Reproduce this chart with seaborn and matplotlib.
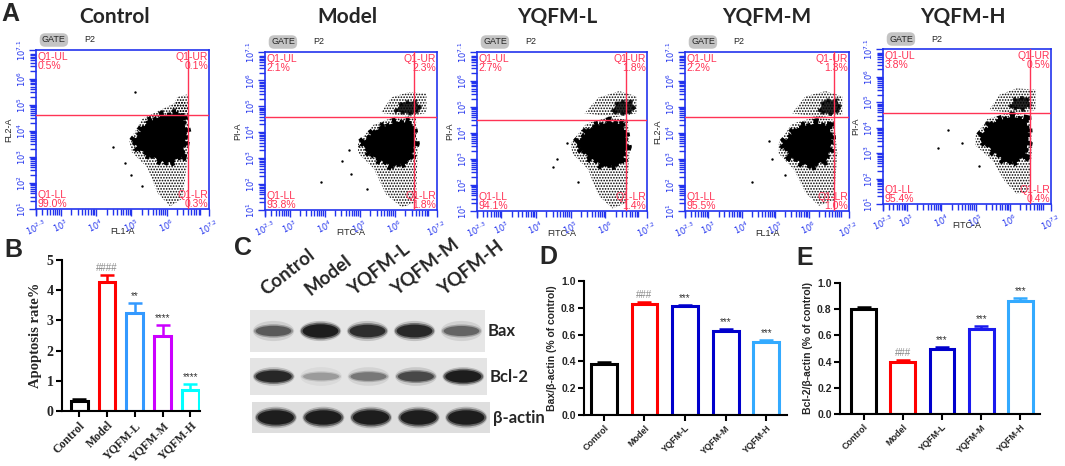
import numpy as np
import pandas as pd
import matplotlib.pyplot as plt
import seaborn as sns
from matplotlib.patches import Polygon, Ellipse

# ---- data ----
groups = ["Control", "Model", "YQFM-L", "YQFM-M", "YQFM-H"]

# A: quadrant percentages (UL, UR, LL, LR)
quad_ul = [0.5, 2.1, 2.7, 2.2, 3.8]
quad_ur = [0.1, 2.3, 1.8, 1.3, 0.5]
quad_ll = [99.0, 93.8, 94.1, 95.5, 95.4]
quad_lr = [0.3, 1.8, 1.4, 1.0, 0.4]
gate_x = [6.6, 6.54, 6.6, 6.75, 6.59]      # vertical gate (log10 units)
gate_y = [4.6, 4.6, 4.5, 4.6, 4.58]        # horizontal gate
xlab_a = ["FL1-A", "FITC-A", "FITC-A", "FL1-A", "FITC-A"]
ylab_a = ["FL2-A", "PI-A", "PI-A", "FL2-A", "PI-A"]

# dense cell cloud outlines (log10 FITC, log10 PI)
core_ctrl = [(5.06, 3.58), (5.43, 4.29), (5.9, 4.6), (6.43, 4.67), (6.57, 3.9), (6.43, 3.0), (6.0, 2.75), (5.62, 3.0), (5.25, 3.26)]
core_model = [(5.05, 3.57), (5.48, 4.09), (6.05, 4.41), (6.48, 4.35), (6.57, 3.57), (6.43, 2.93), (5.95, 2.67), (5.39, 3.06)]
core_low = [(5.17, 3.6), (5.56, 4.17), (6.13, 4.43), (6.52, 4.3), (6.62, 3.47), (6.47, 2.83), (5.99, 2.7), (5.51, 3.08)]
core_mid = [(5.24, 3.6), (5.64, 4.17), (6.24, 4.37), (6.63, 4.23), (6.68, 3.6), (6.53, 2.96), (6.03, 2.7), (5.44, 3.08)]
core_high = [(5.13, 3.65), (5.47, 4.18), (6.05, 4.44), (6.49, 4.31), (6.54, 3.52), (6.44, 2.86), (5.95, 2.6), (5.47, 3.13)]

# sparse surroundings of each cloud
halo_ctrl = [(4.95, 3.6), (5.3, 4.45), (5.9, 4.85), (6.45, 5.2), (6.62, 4.9), (6.62, 3.2), (6.45, 1.4), (6.1, 1.1), (5.75, 1.6), (5.45, 2.6), (5.0, 3.2)]
halo_model = [(4.95, 3.6), (5.4, 4.3), (6.0, 4.6), (6.6, 4.55), (6.65, 3.3), (6.6, 1.3), (6.2, 1.1), (5.75, 1.6), (5.4, 2.6), (4.95, 3.2)]
halo_low = [(5.0, 3.6), (5.45, 4.35), (6.1, 4.6), (6.65, 4.5), (6.7, 3.3), (6.6, 1.3), (6.2, 1.1), (5.8, 1.6), (5.5, 2.6), (5.05, 3.2)]
halo_mid = [(5.1, 3.6), (5.5, 4.35), (6.2, 4.6), (6.75, 4.5), (6.85, 3.2), (6.75, 1.4), (6.3, 1.2), (5.9, 1.7), (5.55, 2.6), (5.1, 3.2)]
halo_high = [(5.0, 3.7), (5.35, 4.35), (6.0, 4.6), (6.6, 4.45), (6.65, 3.2), (6.55, 1.5), (6.2, 1.4), (5.85, 1.9), (5.5, 2.7), (5.0, 3.3)]

# late-apoptotic cluster (upper right)
upper_ctrl = [(6.1, 4.7), (6.3, 5.3), (6.6, 5.4), (6.6, 4.7)]
upper_model = [(5.6, 4.75), (5.9, 5.35), (6.4, 5.55), (6.9, 5.5), (6.9, 4.75), (6.4, 4.6)]
upper_low = [(5.4, 4.75), (5.8, 5.35), (6.4, 5.6), (6.9, 5.4), (6.9, 4.75), (6.3, 4.6)]
upper_mid = [(5.5, 4.75), (5.9, 5.4), (6.5, 5.6), (7.0, 5.4), (7.0, 4.7), (6.3, 4.6)]
upper_high = [(5.4, 4.7), (5.7, 5.3), (6.2, 5.55), (6.75, 5.5), (6.75, 4.7), (6.2, 4.55)]
dense_model = [(6.0, 4.8), (6.2, 5.15), (6.6, 5.2), (6.75, 4.9), (6.5, 4.7)]
dense_low = [(6.2, 4.8), (6.35, 5.2), (6.75, 5.2), (6.85, 4.9), (6.6, 4.7)]
dense_mid = [(6.3, 4.8), (6.45, 5.25), (6.85, 5.25), (6.95, 4.9), (6.7, 4.7)]
dense_high = [(6.0, 4.8), (6.15, 5.15), (6.5, 5.2), (6.6, 4.9), (6.4, 4.7)]

# isolated events
out_ctrl_x = [5.1, 4.49, 4.82, 5.0, 5.3]
out_ctrl_y = [5.5, 3.39, 2.75, 2.3, 1.9]
out_model_x = [4.5, 3.9, 4.7, 4.75, 5.2]
out_model_y = [2.9, 2.1, 3.3, 2.4, 1.8]
out_low_x = [4.6, 4.9, 4.5, 5.2]
out_low_y = [3.0, 3.6, 2.7, 2.1]
out_mid_x = [4.3, 4.8, 4.9, 5.3]
out_mid_y = [2.1, 3.7, 3.0, 2.4]
out_high_x = [4.2, 4.6, 3.9, 5.1]
out_high_y = [3.9, 3.4, 3.2, 2.5]

# B: apoptosis rate (%)
apop_mean = [0.33, 4.27, 3.24, 2.50, 0.71]
apop_err = [0.08, 0.22, 0.32, 0.35, 0.17]
apop_sig = ["", "####", "**", "****", "****"]

# C: western blot band intensity (0-1)
band_bax = [0.55, 1.0, 0.85, 0.9, 0.5]
band_bcl2 = [0.9, 0.25, 0.4, 0.65, 1.0]
band_actin = [1.0, 1.0, 1.0, 1.0, 1.0]
blot_rows = ["Bax", "Bcl-2", "β-actin"]

# D: Bax / beta-actin
bax_mean = [0.38, 0.83, 0.81, 0.625, 0.545]
bax_err = [0.012, 0.01, 0.012, 0.018, 0.016]
bax_sig = ["", "###", "***", "***", "***"]

# E: Bcl-2 / beta-actin
bcl_mean = [0.80, 0.40, 0.50, 0.65, 0.865]
bcl_err = [0.02, 0.012, 0.01, 0.025, 0.02]
bcl_sig = ["", "###", "***", "***", "***"]

# ---- figure ----
sns.set_theme(style="ticks")
plt.rcParams['font.family'] = ['Liberation Sans', 'DejaVu Sans']
plt.rcParams['hatch.linewidth'] = 0.8
W, H = 1065, 466
fig = plt.figure(figsize=(W / 100, H / 100), dpi=100)


def fax(l, t, r, b):
    return fig.add_axes([l / W, 1 - b / H, (r - l) / W, (b - t) / H])


blue = "#2233ee"
qred = "#ff3355"
a_boxes = [(36, 50, 209, 209), (265, 52, 437, 210), (477, 52, 647, 211), (685, 52, 849, 211), (883, 49, 1051, 204)]
title_x = [115, 347, 557, 767, 963]
cores = [core_ctrl, core_model, core_low, core_mid, core_high]
halos = [halo_ctrl, halo_model, halo_low, halo_mid, halo_high]
uppers = [upper_ctrl, upper_model, upper_low, upper_mid, upper_high]
denses = [None, dense_model, dense_low, dense_mid, dense_high]
outs = [(out_ctrl_x, out_ctrl_y), (out_model_x, out_model_y), (out_low_x, out_low_y),
        (out_mid_x, out_mid_y), (out_high_x, out_high_y)]

xmaj = [2.3, 3, 4, 5, 6, 7.2]
ymaj = [1, 2, 3, 4, 5, 6, 7.1]
xmin = [np.log10(k) + n for n in range(2, 8) for k in range(2, 10) if 2.3 < np.log10(k) + n < 7.2]
ymin = [np.log10(k) + n for n in range(1, 8) for k in range(2, 10) if 1 < np.log10(k) + n < 7.1]

for i, g in enumerate(groups):
    l, t, r, b = a_boxes[i]
    ax = fax(l, t, r, b)
    ax.set_xlim(2.3, 7.2)
    ax.set_ylim(1, 7.1)
    ax.add_patch(Polygon(halos[i], closed=True, fc="none", ec="black", hatch="......", lw=0, zorder=2))
    ax.add_patch(Polygon(uppers[i], closed=True, fc="none", ec="black", hatch="......", lw=0, zorder=2))
    if denses[i] is not None:
        ax.add_patch(Polygon(denses[i], closed=True, fc="black", ec="black", lw=2.5,
                             linestyle=(0, (1, 1.2)), alpha=0.85, zorder=3))
    # core with a grainy dotted rim
    ax.add_patch(Polygon(cores[i], closed=True, fc="none", ec="black", lw=7,
                         linestyle=(0, (0.4, 0.9)), zorder=3))
    ax.add_patch(Polygon(cores[i], closed=True, fc="black", ec="black", lw=3,
                         linestyle=(0, (1, 0.8)), zorder=3))
    sns.scatterplot(x=outs[i][0], y=outs[i][1], s=3, color="black", linewidth=0, ax=ax, legend=False, zorder=3)
    ax.axvline(gate_x[i], color=qred, lw=1, zorder=4)
    ax.axhline(gate_y[i], color=qred, lw=1, zorder=4)
    for s in ax.spines.values():
        s.set_color(blue)
        s.set_linewidth(1.2)
    ax.set_xticks(xmaj)
    ax.set_xticklabels(["$10^{%s}$" % v for v in xmaj], rotation=25, fontsize=6, color=blue)
    ax.set_yticks(ymaj)
    ax.set_yticklabels(["$10^{%s}$" % v for v in ymaj], rotation=90, fontsize=6, color=blue, va="center")
    ax.set_xticks(xmin, minor=True)
    ax.set_yticks(ymin, minor=True)
    ax.tick_params(which="both", direction="out", color=blue, width=1)
    ax.tick_params(which="major", length=5, pad=1)
    ax.tick_params(which="minor", length=4)
    ax.set_xlabel("")
    ax.set_ylabel("")
    kw = dict(transform=ax.transAxes, color=qred, fontsize=7.5, linespacing=0.9, zorder=5)
    ax.text(0.01, 0.99, "Q1-UL\n%.1f%%" % quad_ul[i], ha="left", va="top", **kw)
    ax.text(0.995, 0.99, "Q1-UR\n%.1f%%" % quad_ur[i], ha="right", va="top", **kw)
    ax.text(0.01, 0.0, "Q1-LL\n%.1f%%" % quad_ll[i], ha="left", va="bottom", **kw)
    ax.text(0.995, 0.0, "Q1-LR\n%.1f%%" % quad_lr[i], ha="right", va="bottom", **kw)
    fig.text(title_x[i] / W, 1 - 17 / H, g, ha="center", va="center", fontsize=15, weight="bold", family="Lato")
    fig.text((l + r) / 2 / W, 1 - (b + 22) / H, xlab_a[i], ha="center", va="center", fontsize=6.5)
    fig.text((l - 27) / W, 1 - (t + b) / 2 / H, ylab_a[i], ha="center", va="center", fontsize=6.5, rotation=90)
    fig.text((l + 6) / W, 1 - (t - 10) / H, "GATE", ha="left", va="center", fontsize=6.5,
             bbox=dict(boxstyle="round,pad=0.25,rounding_size=0.6", fc="#c4c4c4", ec="none"))
    fig.text((l + 48) / W, 1 - (t - 10) / H, "P2", ha="left", va="center", fontsize=6.5)

fig.text(10 / W, 1 - 14 / H, "A", fontsize=18, weight="bold", ha="center", va="center")


# ---- bar panels ----
def bar_panel(box, means, errs, sigs, colors, xlim, ylim, yticks, ylabel, font, tsize, lsize, ysize, width):
    ax = fax(*box)
    df = pd.DataFrame({"group": groups, "value": means})
    sns.barplot(data=df, x="group", y="value", hue="group", palette=colors, fill=False,
                linewidth=2.2, width=width, legend=False, ax=ax, errorbar=None)
    for j in range(len(groups)):
        ax.errorbar(j, means[j], yerr=[[0], [errs[j]]], fmt="none", ecolor=colors[j],
                    elinewidth=1.8, capsize=5, capthick=1.8)
        if sigs[j]:
            ax.text(j, means[j] + errs[j] + (ylim[1] - ylim[0]) * 0.015, sigs[j], ha="center", va="bottom",
                    fontsize=7, color="#333333" if sigs[j][0] == "*" else "#888888")
    ax.set_xlim(*xlim)
    ax.set_ylim(*ylim)
    ax.set_yticks(yticks)
    sns.despine(ax=ax)
    for s in ["left", "bottom"]:
        ax.spines[s].set_linewidth(1.5)
        ax.spines[s].set_color("black")
    ax.tick_params(axis="both", width=1.5, length=4, color="black", pad=2)
    ax.set_xlabel("")
    ax.set_ylabel(ylabel, family=font, weight="bold", fontsize=ysize, labelpad=3)
    ax.set_xticks(range(len(groups)))
    ax.set_xticklabels(groups, rotation=45, ha="right", rotation_mode="anchor", family=font,
                       weight="bold", fontsize=lsize)
    for lab in ax.get_yticklabels():
        lab.set_family(font)
        lab.set_weight("bold")
        lab.set_fontsize(tsize)
    return ax


colors_b = ["black", "#ff0000", "#3399ff", "#cc00ff", "#00ffff"]
colors_d = ["black", "#ff0000", "#0000cc", "#0000cc", "#33aaff"]
colors_e = ["black", "#ff0000", "#0000cc", "#1a1aee", "#33aaff"]

axb = bar_panel((62, 260, 200, 411), apop_mean, apop_err, apop_sig, colors_b, (-0.62, 4.35), (0, 5),
                [0, 1, 2, 3, 4, 5], "Apoptosis rate%", "Liberation Serif", 10, 8.5, 10.5, 0.6)
axd = bar_panel((584, 281, 787, 415), bax_mean, bax_err, bax_sig, colors_d, (-0.49, 4.51), (0, 1.0),
                [0, 0.2, 0.4, 0.6, 0.8, 1.0], "Bax/β-actin (% of control)", "Liberation Sans", 7.5, 6.5, 7.5, 0.64)
axe = bar_panel((840, 283, 1040, 414), bcl_mean, bcl_err, bcl_sig, colors_e, (-0.6, 4.5), (0, 1.0),
                [0, 0.2, 0.4, 0.6, 0.8, 1.0], "Bcl-2/β-actin (% of control)", "Liberation Sans", 7.5, 6.5, 7.5, 0.63)
for ax in (axd, axe):
    ax.set_yticklabels(["%.1f" % v for v in [0, 0.2, 0.4, 0.6, 0.8, 1.0]], family="Liberation Sans",
                       weight="bold", fontsize=7.5)

fig.text(13 / W, 1 - 250 / H, "B", fontsize=18, weight="bold", ha="center", va="center")
fig.text(243 / W, 1 - 248 / H, "C", fontsize=18, weight="bold", ha="center", va="center")
fig.text(548 / W, 1 - 257 / H, "D", fontsize=18, weight="bold", ha="center", va="center")
fig.text(805 / W, 1 - 258 / H, "E", fontsize=18, weight="bold", ha="center", va="center")

# ---- C: western blot ----
row_boxes = [(250, 310, 485, 352), (250, 358, 487, 395), (252, 402, 490, 433)]
row_bg = ["#e6e6e6", "#e4e4e4", "#dedede"]
row_h = [0.40, 0.42, 0.58]
for k, bands in enumerate([band_bax, band_bcl2, band_actin]):
    ax = fax(*row_boxes[k])
    ax.set_xlim(0, 5)
    ax.set_ylim(0, 1)
    ax.set_facecolor(row_bg[k])
    for s in ax.spines.values():
        s.set_visible(False)
    ax.set_xticks([])
    ax.set_yticks([])
    for j, v in enumerate(bands):
        ax.add_patch(Ellipse((j + 0.5, 0.5), 0.88, row_h[k] * 1.2, fc="black", ec="none", alpha=0.18 * v))
        ax.add_patch(Ellipse((j + 0.5, 0.5), 0.84, row_h[k] * (0.55 + 0.45 * v), fc="black", ec="none", alpha=0.45 * v))
        ax.add_patch(Ellipse((j + 0.5, 0.5), 0.76, row_h[k] * (0.4 + 0.4 * v), fc="#111111", ec="none", alpha=0.85 * v))
    fig.text((row_boxes[k][2] + 3) / W, 1 - (row_boxes[k][1] + row_boxes[k][3]) / 2 / H, blot_rows[k],
             fontsize=12, weight="bold", family="Lato", ha="left", va="center")

lane_x = [268, 312, 355, 398, 445]
for j, g in enumerate(groups):
    fig.text(lane_x[j] / W, 1 - 298 / H, g, rotation=38, rotation_mode="anchor", ha="left", va="bottom",
             fontsize=13.5, weight="bold", family="Lato")

fig.savefig("out.png", dpi=100)
